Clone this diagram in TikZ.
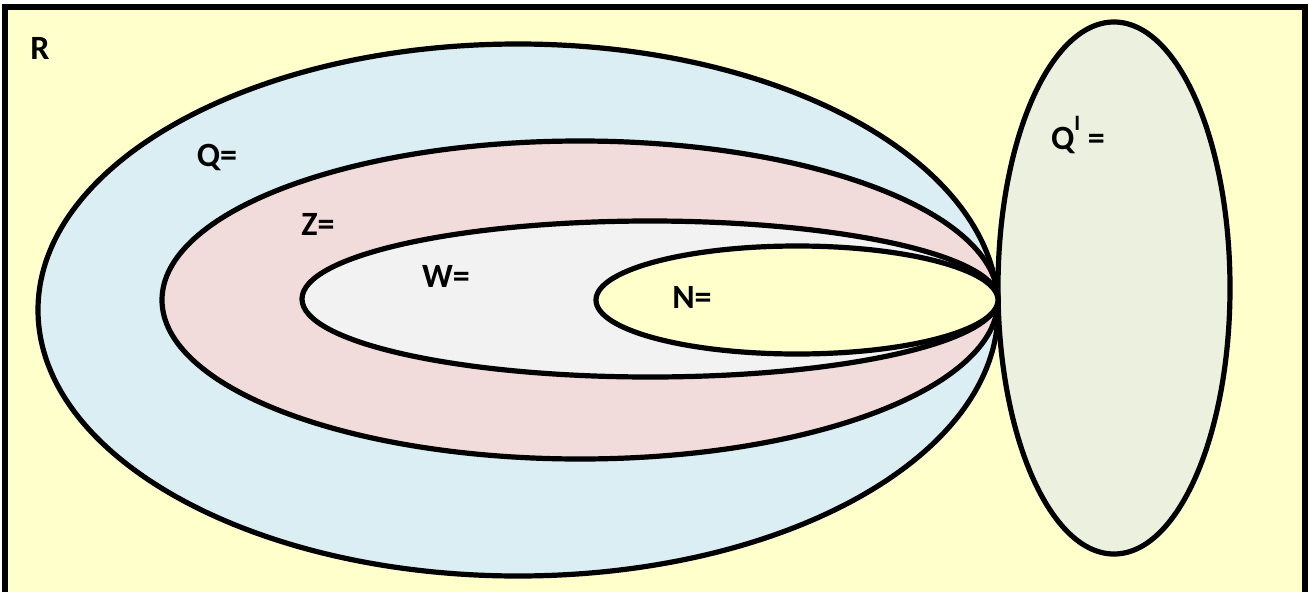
\documentclass[tikz,border=0pt]{standalone}
\usepackage{fontspec}
\setmainfont{Carlito}
\definecolor{bgY}{HTML}{FFFFCC}
\definecolor{qBlue}{HTML}{DAEEF3}
\definecolor{zPink}{HTML}{F2DCDB}
\definecolor{wGray}{HTML}{F2F2F2}
\definecolor{qGreen}{HTML}{EBF1DE}
\begin{document}
\begin{tikzpicture}[x=1pt,y=-1pt,
  setshape/.style={draw=black,line width=5.2pt},
  lbl/.style={font=\fontsize{34}{38}\selectfont\bfseries,inner sep=0pt}]
\useasboundingbox (0,0) rectangle (1310,592);
\fill[white] (0,0) rectangle (1310,592);
\draw[line width=5.5pt,fill=bgY] (5,7) rectangle (1305,610);
\draw[setshape,fill=qGreen] (1114,288) ellipse [x radius=116,y radius=266];
\draw[setshape,fill=qBlue] (518,310) ellipse [x radius=480,y radius=266];
\draw[setshape,fill=zPink] (580,300) ellipse [x radius=418,y radius=159];
\draw[setshape,fill=wGray] (650,299) ellipse [x radius=348,y radius=78];
\draw[setshape,fill=bgY] (797,300) ellipse [x radius=201,y radius=54];
\node[lbl] (R) at (40,48) {R};
\node[lbl] (Q) at (217,157) {Q=};
\node[lbl] (Z) at (318,224) {Z=};
\node[lbl] (W) at (446,276) {W=};
\node[lbl] (N) at (692,297) {N=};
\node[lbl] (Qp) at (1078,135) {Q\raisebox{0.55em}{\fontsize{22}{24}\selectfont I} =};
\end{tikzpicture}
\end{document}
